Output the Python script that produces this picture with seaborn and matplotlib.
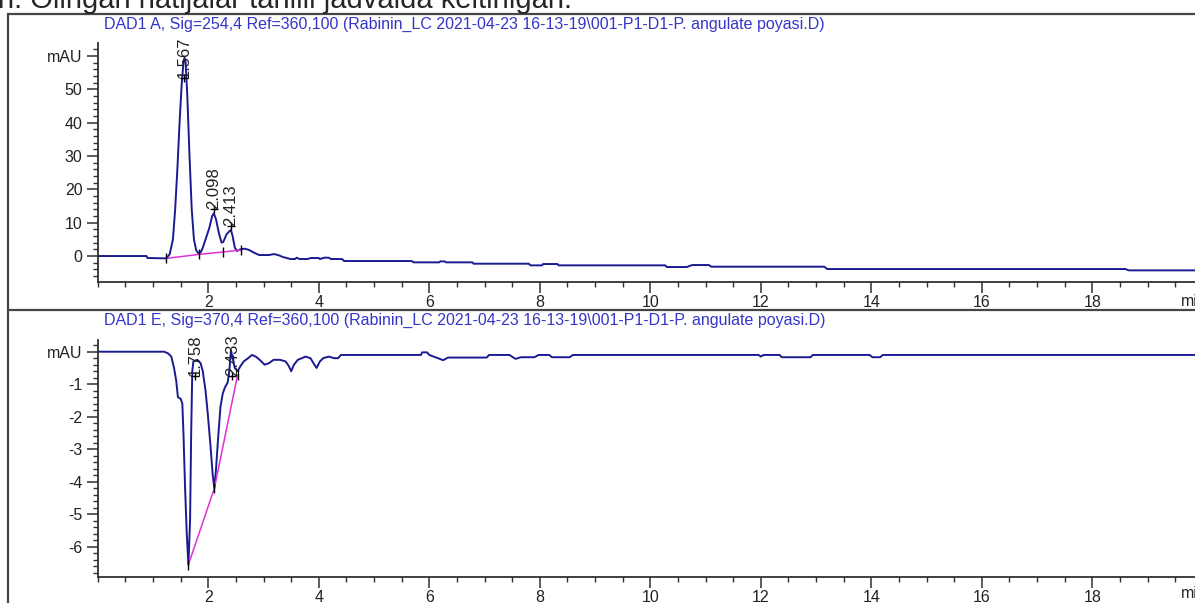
"""
Xromatogramma: DAD1 A (254 nm) va DAD1 E (370 nm) signallari.
"""

import matplotlib
matplotlib.use("Agg")
import matplotlib.pyplot as plt
import seaborn as sns
from matplotlib.lines import Line2D
from matplotlib.patches import Rectangle
from matplotlib.ticker import MultipleLocator

# --- ma'lumotlar (rasmdan o'qilgan) ---
header_text = "n. Olingan natijalar tahlili jadvalda keltirilgan."
title_a = "DAD1 A, Sig=254,4 Ref=360,100 (Rabinin_LC 2021-04-23 16-13-19\\001-P1-D1-P. angulate poyasi.D)"
title_e = "DAD1 E, Sig=370,4 Ref=360,100 (Rabinin_LC 2021-04-23 16-13-19\\001-P1-D1-P. angulate poyasi.D)"

time_a = [0.0, 0.88, 0.90, 1.24, 1.30, 1.36, 1.40, 1.44, 1.48, 1.52, 1.55, 1.57,
          1.59, 1.62, 1.66, 1.70, 1.74, 1.78, 1.82, 1.86, 1.90, 1.96, 2.02, 2.07,
          2.10, 2.14, 2.19, 2.24, 2.27, 2.33, 2.38, 2.41, 2.44, 2.48, 2.52, 2.58,
          2.66, 2.74, 2.84, 2.92, 3.10, 3.19, 3.28, 3.35, 3.49, 3.57, 3.60, 3.65,
          3.80, 3.85, 4.00, 4.02, 4.10, 4.18, 4.22, 4.42, 4.46, 5.68, 5.72, 6.18,
          6.20, 6.28, 6.30, 6.78, 6.80, 7.80, 7.83, 8.04, 8.06, 8.32, 8.34, 10.27,
          10.30, 10.66, 10.76, 11.06, 11.10, 13.15, 13.20, 18.60, 18.66, 20.0]
signal_a = [0.0, 0.0, -0.6, -0.7, 0.5, 5.0, 14.0, 26.0, 40.0, 52.0, 58.0, 59.5,
            58.0, 48.0, 30.0, 14.0, 5.0, 1.8, 0.8, 1.0, 2.5, 5.5, 8.5, 12.0,
            12.8, 11.0, 7.0, 4.0, 4.2, 6.5, 7.4, 7.8, 6.0, 2.5, 1.5, 2.0,
            2.2, 1.8, 0.9, 0.3, 0.3, 0.6, 0.2, -0.3, -0.9, -0.9, -0.5, -0.9,
            -0.9, -0.6, -0.6, -0.9, -0.5, -0.5, -0.9, -0.9, -1.5, -1.5, -1.9, -1.9,
            -1.6, -1.6, -1.9, -1.9, -2.3, -2.3, -2.8, -2.8, -2.4, -2.4, -2.8, -2.8,
            -3.3, -3.3, -2.7, -2.7, -3.2, -3.2, -3.9, -3.9, -4.3, -4.3]

time_e = [0.0, 1.20, 1.27, 1.33, 1.38, 1.42, 1.45, 1.50, 1.53, 1.55, 1.58, 1.61,
          1.64, 1.67, 1.69, 1.71, 1.73, 1.80, 1.86, 1.90, 1.95, 1.99, 2.04, 2.08,
          2.11, 2.14, 2.18, 2.22, 2.26, 2.30, 2.35, 2.38, 2.41, 2.44, 2.48, 2.53,
          2.58, 2.64, 2.72, 2.79, 2.86, 2.93, 3.02, 3.10, 3.18, 3.30, 3.40, 3.46,
          3.50, 3.55, 3.62, 3.76, 3.85, 3.92, 3.96, 4.02, 4.08, 4.18, 4.28, 4.35,
          4.40, 5.85, 5.87, 5.96, 6.00, 6.25, 6.34, 7.04, 7.08, 7.37, 7.45, 7.56,
          7.66, 7.90, 7.98, 8.17, 8.22, 8.54, 8.60, 11.96, 12.00, 12.05, 12.34, 12.38,
          12.90, 12.94, 13.97, 14.02, 14.16, 14.21, 20.0]
signal_e = [0.0, 0.0, -0.05, -0.15, -0.5, -0.9, -1.4, -1.45, -1.6, -2.5, -4.2, -5.6,
            -6.55, -5.2, -2.5, -0.6, -0.3, -0.25, -0.35, -0.6, -1.2, -1.9, -2.9, -3.8,
            -4.2, -3.6, -2.6, -1.7, -1.3, -1.1, -0.95, -0.6, 0.05, -0.2, -0.5, -0.6,
            -0.45, -0.3, -0.2, -0.1, -0.15, -0.25, -0.4, -0.35, -0.25, -0.25, -0.3, -0.45,
            -0.6, -0.4, -0.25, -0.15, -0.2, -0.4, -0.5, -0.3, -0.2, -0.15, -0.2, -0.2,
            -0.1, -0.1, -0.02, -0.02, -0.1, -0.26, -0.18, -0.18, -0.1, -0.1, -0.1, -0.22,
            -0.17, -0.17, -0.1, -0.1, -0.17, -0.17, -0.1, -0.1, -0.15, -0.1, -0.1, -0.17,
            -0.17, -0.1, -0.1, -0.17, -0.17, -0.1, -0.1]

# integratsiya bazaviy chiziqlari
base_a_t = [1.24, 1.84, 2.26, 2.59]
base_a_v = [-0.7, 0.5, 1.2, 1.8]
base_e_t = [1.64, 2.11, 2.53]
base_e_v = [-6.55, -4.2, -0.72]

# cho'qqi belgilari
peaks_a = ["1.567", "2.098", "2.413"]
peaks_a_t = [1.567, 2.098, 2.413]
peaks_a_y = [53.3, 14.0, 9.0]
peaks_e = ["1.758", "2.433"]
peaks_e_t = [1.758, 2.433]
peaks_e_y = [-0.75, -0.75]

yticks_a = [0, 10, 20, 30, 40, 50, 60]
ylabels_a = ["0", "10", "20", "30", "40", "50", "mAU"]
yticks_e = [-6, -5, -4, -3, -2, -1, 0]
ylabels_e = ["-6", "-5", "-4", "-3", "-2", "-1", "mAU"]
xticks = [2, 4, 6, 8, 10, 12, 14, 16, 18]

# --- chizish ---
W, H = 1195, 603
X0, PX_MIN = 97.8, 55.25
TRACE = "#1a1a92"
TITLE_C = "#3535c8"
BASE_C = "#e030d8"
AX_C = "#303030"

sns.set_style("ticks")
plt.rcParams["font.family"] = ["Liberation Sans", "DejaVu Sans"]


def fx(px):
    return px / W


def fy(py):
    return 1 - py / H


fig = plt.figure(figsize=(W / 100, H / 100), dpi=100)

fig.text(-0.002, fy(7.5), header_text, fontsize=21, ha="left", va="baseline")
fig.add_artist(Rectangle((fx(8.3), -0.05), 1.2, fy(14) + 0.05, transform=fig.transFigure,
                         fill=False, lw=1.6, ec="#454545"))
fig.add_artist(Line2D([fx(8.3), 1.0], [fy(310), fy(310)], transform=fig.transFigure,
                      lw=1.6, color="#454545"))

xmax = (W - X0) / PX_MIN
ax1 = fig.add_axes([fx(X0), fy(281.7), 1 - fx(X0), fy(43.3) - fy(281.7)])
ax2 = fig.add_axes([fx(X0), fy(576.7), 1 - fx(X0), fy(340) - fy(576.7)])

panels = [
    (ax1, time_a, signal_a, base_a_t, base_a_v, peaks_a, peaks_a_t, peaks_a_y,
     yticks_a, ylabels_a, (-7.7, 63.8), 2, title_a, 24, 301),
    (ax2, time_e, signal_e, base_e_t, base_e_v, peaks_e, peaks_e_t, peaks_e_y,
     yticks_e, ylabels_e, (-6.92, 0.36), 0.2, title_e, 320, 594),
]

for (ax, t, s, bt, bv, labels, lt, ly, yt, yl, ylim, yminor,
     title, title_y, min_y) in panels:
    sns.lineplot(x=t, y=s, ax=ax, color=TRACE, lw=1.4, estimator=None, sort=False)
    sns.lineplot(x=bt, y=bv, ax=ax, color=BASE_C, lw=1.1, estimator=None, sort=False)
    ax.plot(bt, bv, ls="", marker="|", ms=7, mew=1.0, color="k")
    ax.plot(lt, ly, ls="", marker="+", ms=6, mew=1.0, color="k")
    for lab, x, y in zip(labels, lt, ly):
        ax.text(x, y, lab, rotation=90, ha="center", va="bottom", fontsize=12,
                color="#222222")

    ax.set_xlim(0, xmax)
    ax.set_ylim(*ylim)
    ax.set_xticks(xticks)
    ax.set_xticklabels([str(v) for v in xticks])
    ax.xaxis.set_minor_locator(MultipleLocator(0.5))
    ax.set_yticks(yt)
    ax.set_yticklabels(yl)
    ax.yaxis.set_minor_locator(MultipleLocator(yminor))
    ax.get_yticklabels()[-1].set_fontsize(9.5)
    ax.tick_params(which="major", length=8, width=1.1, color=AX_C, labelsize=11.5,
                   pad=3, labelcolor="#222222")
    ax.tick_params(axis="x", which="major", pad=1.5)
    ax.tick_params(which="minor", length=3.5, width=1.0, color=AX_C)
    for side in ("top", "right"):
        ax.spines[side].set_visible(False)
    for side in ("left", "bottom"):
        ax.spines[side].set_color(AX_C)
        ax.spines[side].set_linewidth(1.3)
    ax.set_xlabel("")
    ax.set_ylabel("")
    ax.patch.set_alpha(0)

    fig.text(fx(104), fy(title_y), title, color=TITLE_C, fontsize=11.5,
             ha="left", va="center")
    fig.text(fx(1181), fy(min_y), "min", fontsize=11.5, ha="left", va="center",
             color="#222222")

fig.savefig("out.png", dpi=100)
